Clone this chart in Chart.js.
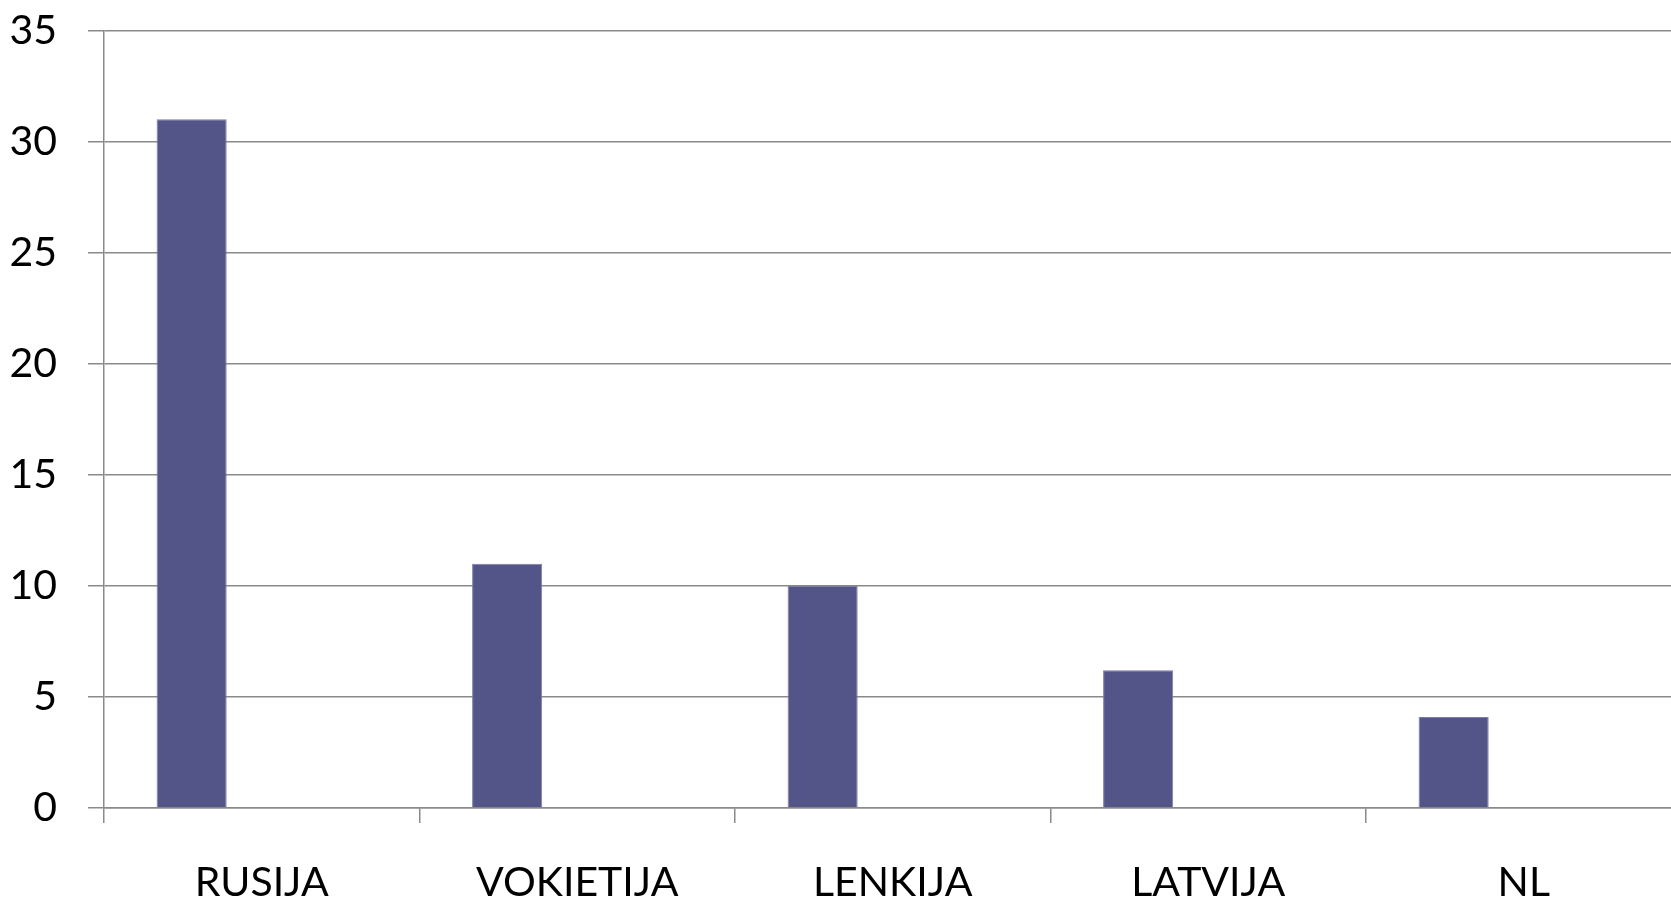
<!DOCTYPE html>
<html>
<head>
<meta charset="utf-8">
<script src="https://cdn.jsdelivr.net/npm/chart.js@4"></script>
<style>
  html, body { margin:0; padding:0; background:#fff; overflow:hidden; }
  #wrap { position:absolute; left:0; top:0; }
</style>
</head>
<body>
<div id="wrap"><canvas id="chart" width="1700" height="901"></canvas></div>
<script>
// --- data
const countries = ['RUSIJA', 'VOKIETIJA', 'LENKIJA', 'LATVIJA', 'NL'];
const values = [31, 11, 10, 6.2, 4.1];
// the source chart had two more (empty) series, which is why bars sit left in each slot
const emptySeries2 = [null, null, null, null, null];
const emptySeries3 = [null, null, null, null, null];
const yTicks = [0, 5, 10, 15, 20, 25, 30, 35];

const FONT = { family: 'Lato', size: 41 };
const GRID = '#8a8a8a';

new Chart(document.getElementById('chart'), {
  type: 'bar',
  data: {
    labels: countries,
    datasets: [
      { data: values, backgroundColor: '#535588', borderColor: '#7b7da6', borderWidth: 1,
        categoryPercentage: 3/4.5, barPercentage: 1 },
      { data: emptySeries2, categoryPercentage: 3/4.5, barPercentage: 1 },
      { data: emptySeries3, categoryPercentage: 3/4.5, barPercentage: 1 }
    ]
  },
  options: {
    responsive: false,
    animation: false,
    layout: { padding: { top: 30.5, right: 18.5, bottom: 0, left: 0 } },
    plugins: { legend: { display: false }, tooltip: { enabled: false } },
    scales: {
      x: {
        grid: { offset: true, drawOnChartArea: false, color: GRID, lineWidth: 1.5, tickLength: 15 },
        border: { color: GRID, width: 1.5 },
        ticks: { color: '#000', font: FONT, padding: 35, maxRotation: 0 },
        afterFit: s => { s.height = 93; s.paddingLeft = 0; s.paddingRight = 0; }
      },
      y: {
        min: 0, max: 35,
        afterBuildTicks: s => { s.ticks = yTicks.map(v => ({ value: v })); },
        grid: { color: GRID, lineWidth: 1.5, tickLength: 16 },
        border: { color: GRID, width: 1.5 },
        ticks: { color: '#000', font: FONT, padding: 31 },
        afterFit: s => { s.width = 104; s.paddingTop = 0; s.paddingBottom = 0; }
      }
    }
  }
});
</script>
</body>
</html>
